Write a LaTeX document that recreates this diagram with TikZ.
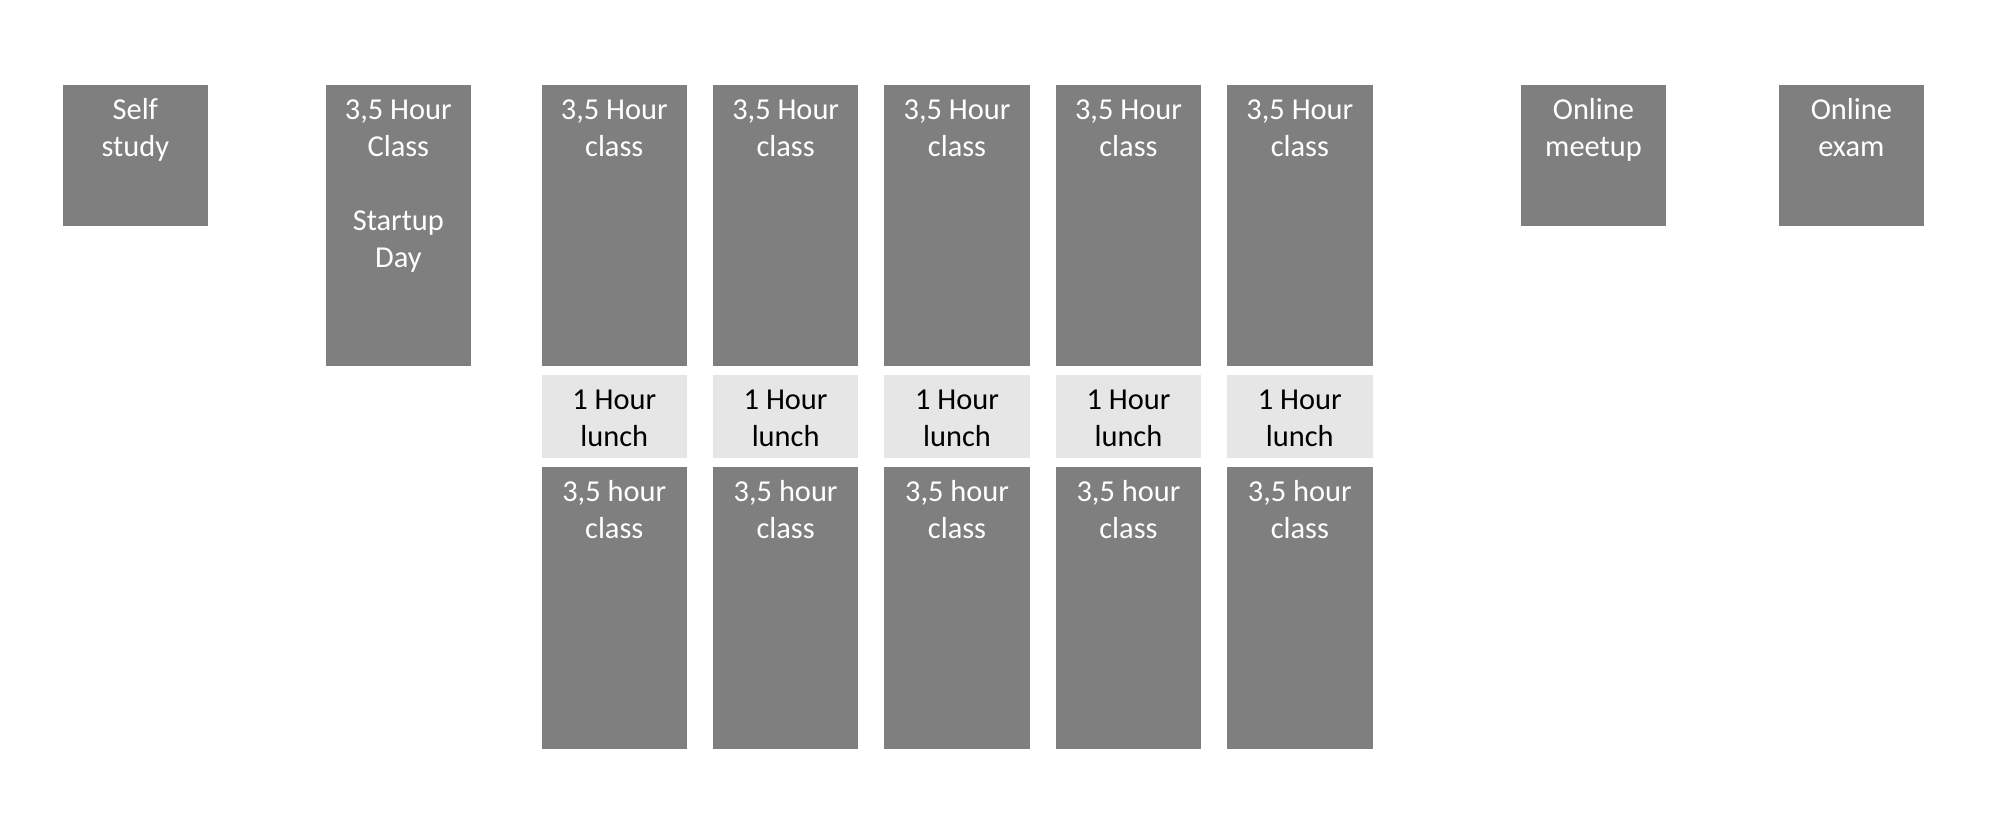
\documentclass[tikz,border=0pt]{standalone}
\usepackage{fontspec}
\setmainfont{Carlito}
\definecolor{boxgray}{HTML}{7F7F7F}
\definecolor{lunchgray}{HTML}{E6E6E6}
\newcommand{\boxtext}[3]{\parbox[c][#1pt][t]{72.75pt}{\centering\rule{0pt}{17pt}#3}}
\tikzset{
  block/.style={fill=boxgray, inner sep=0pt, outer sep=0pt, anchor=north west,
    font=\fontsize{15.2}{18.5}\selectfont, text=white},
  lunchblock/.style={block, fill=lunchgray, text=black}
}
\begin{document}
\begin{tikzpicture}[x=0.5pt,y=-0.5pt]
\useasboundingbox (0,0) rectangle (2002,822);
\node[block] (self) at (62.6,85.5) {\boxtext{70.25}{}{Self\\study}};
\node[block] (startup) at (325.6,85.5) {\boxtext{140.5}{}{3,5 Hour\\Class\\[18.5pt]Startup\\Day}};
\foreach \i in {0,...,4}{
  \node[block] (top\i) at (541.5+\i*171.4,85.5) {\boxtext{140.5}{}{3,5 Hour\\class}};
  \node[lunchblock] (lunch\i) at (541.5+\i*171.4,375.4) {\boxtext{41.5}{}{1 Hour\\lunch}};
  \node[block] (bottom\i) at (541.5+\i*171.4,467.5) {\boxtext{141}{}{3,5 hour\\class}};
}
\node[block] (meetup) at (1520.7,85.5) {\boxtext{70.25}{}{Online\\meetup}};
\node[block] (exam) at (1778.6,85.5) {\boxtext{70.25}{}{Online\\exam}};
\end{tikzpicture}
\end{document}
